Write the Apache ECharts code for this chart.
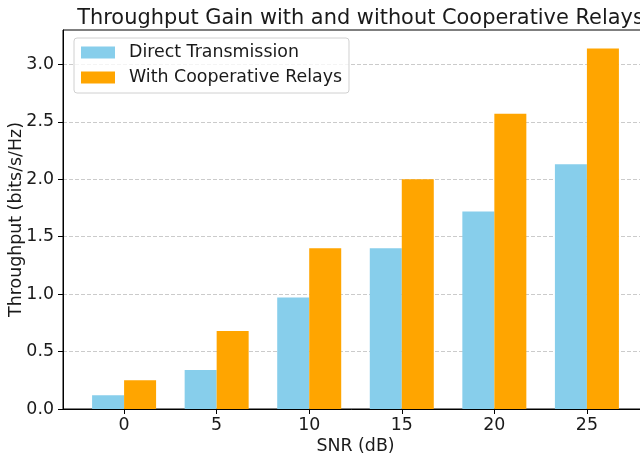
<!DOCTYPE html>
<html>
<head>
<meta charset="utf-8">
<script src="https://cdn.jsdelivr.net/npm/echarts@6/dist/echarts.min.js"></script>
<style>html,body{margin:0;padding:0;background:#fff}#c{width:640px;height:459px}</style>
</head>
<body>
<div id="c"></div>
<script>
const snrValues = [0, 5, 10, 15, 20, 25];
const directTransmission = [0.12, 0.34, 0.97, 1.40, 1.72, 2.13];
const cooperativeRelays = [0.25, 0.68, 1.40, 2.00, 2.57, 3.14];
const yTickValues = [0, 0.5, 1.0, 1.5, 2.0, 2.5, 3.0];

const chart = echarts.init(document.getElementById('c'), null, {renderer: 'canvas'});
const font = 'DejaVu Sans';
const txt = '#1a1a1a';
const fs = 17.4;

chart.setOption({
  animation: false,
  textStyle: {fontFamily: font},
  title: {
    text: 'Throughput Gain with and without Cooperative Relays',
    left: 355.5, top: 3, textAlign: 'center',
    textStyle: {fontFamily: font, fontSize: 20.9, fontWeight: 'normal', color: txt}
  },
  legend: {
    orient: 'vertical', left: 74, top: 38,
    padding: [6, 7, 7, 7],
    itemWidth: 34, itemHeight: 12, itemGap: 8,
    icon: 'rect',
    backgroundColor: 'rgba(255,255,255,0.8)',
    borderColor: '#d0d0d0', borderWidth: 1, borderRadius: 3,
    textStyle: {fontFamily: font, fontSize: fs, color: txt, padding: [0, 0, 0, 9]},
    data: ['Direct Transmission', 'With Cooperative Relays']
  },
  grid: {
    left: 63, right: -8, top: 30, bottom: 50,
    outerBoundsMode: 'none', containLabel: false,
    show: true, borderColor: '#000', borderWidth: 1, backgroundColor: 'transparent'
  },
  xAxis: {
    type: 'value', min: -3.3, max: 28.3,
    name: 'SNR (dB)', nameLocation: 'middle', nameGap: 29, nameMoveOverlap: false,
    nameTextStyle: {fontFamily: font, fontSize: fs, color: txt},
    axisLine: {show: true, onZero: false, lineStyle: {color: '#000', width: 1}},
    axisTick: {show: true, length: 5, lineStyle: {color: '#000'}, customValues: snrValues},
    axisLabel: {fontFamily: font, fontSize: fs, color: txt, margin: 8, customValues: snrValues,
      formatter: v => String(v)},
    splitLine: {show: false}
  },
  yAxis: {
    type: 'value', min: 0, max: 3.3,
    name: 'Throughput (bits/s/Hz)', nameLocation: 'middle', nameGap: 38, nameMoveOverlap: false,
    nameTextStyle: {fontFamily: font, fontSize: fs, color: txt},
    axisLine: {show: true, onZero: false, lineStyle: {color: '#000', width: 1}},
    axisTick: {show: true, length: 5, lineStyle: {color: '#000'}, customValues: yTickValues},
    axisLabel: {fontFamily: font, fontSize: fs, color: txt, margin: 9, customValues: yTickValues,
      formatter: v => v.toFixed(1)},
    splitLine: {show: true, lineStyle: {color: 'rgba(190,190,190,0.8)', type: [4, 2], width: 1}}
  },
  series: [
    {
      name: 'Direct Transmission', type: 'bar',
      barWidth: 32, barGap: '0%',
      itemStyle: {color: '#87CEEB'},
      data: snrValues.map((s, i) => [s, directTransmission[i]])
    },
    {
      name: 'With Cooperative Relays', type: 'bar',
      barWidth: 32, barGap: '0%',
      itemStyle: {color: '#FFA500'},
      data: snrValues.map((s, i) => [s, cooperativeRelays[i]])
    }
  ]
});
</script>
</body>
</html>
